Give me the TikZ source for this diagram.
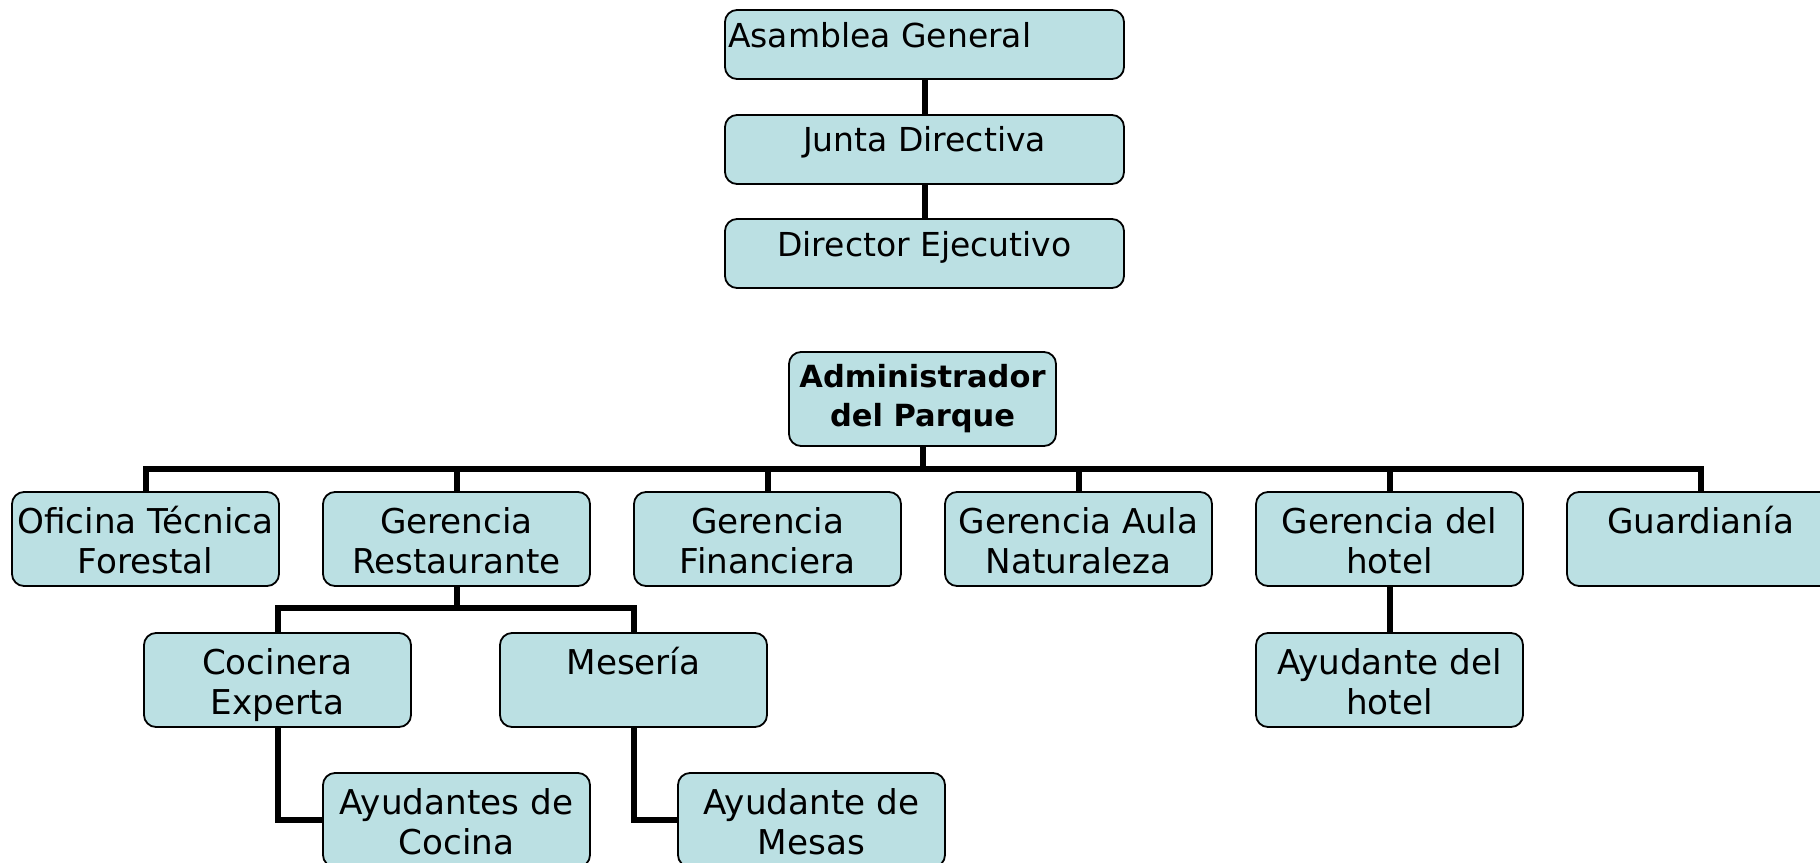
\documentclass[tikz,border=0pt]{standalone}
\usepackage{fontspec}
\setmainfont{DejaVu Sans}
\definecolor{boxfill}{HTML}{BBE0E3}
\tikzset{
  box/.style={draw=black, fill=boxfill, rounded corners=12pt, line width=1.8pt,
    inner sep=0pt, outer sep=0pt, anchor=north west},
  rowbox/.style={box, minimum width=267pt, minimum height=94pt},
  topbox/.style={box, minimum width=399pt, minimum height=69pt},
  conn/.style={line width=6pt, draw=black}
}
% #1 width, #2 height, #3 first baseline, #4 alignment, #5 text
\newcommand\bxt[5]{\parbox[c][#2][t]{#1}{#4\fontsize{34.2}{40}\selectfont\rule{0pt}{#3}#5}}
\newcommand\topt[5]{\parbox[c][#2][t]{#1}{#4\fontsize{33}{40}\selectfont\rule{0pt}{#3}#5}}
\newcommand\rowtxt[1]{\bxt{267pt}{94pt}{41pt}{\centering}{#1}}
\begin{document}
\begin{tikzpicture}[x=1pt,y=-1pt]
\clip (0,0) rectangle (1820,862);
\fill[white] (0,0) rectangle (1820,862);

% top chain
\node[topbox] (asm) at (725,10) {\topt{399pt}{69pt}{37pt}{\raggedright\hspace*{3pt}}{Asamblea General}};
\node[topbox] (jun) at (725,115) {\topt{399pt}{69pt}{36pt}{\centering}{Junta Directiva}};
\node[topbox] (dir) at (725,219) {\topt{399pt}{69pt}{37pt}{\centering}{Director Ejecutivo}};

% administrator
\node[rowbox] (adm) at (789,352) {\parbox[c][94pt][t]{267pt}{\centering\fontsize{30.5}{39}\selectfont\bfseries\rule{0pt}{35pt}Administrador\\del Parque}};

% first row
\node[rowbox] (ofi) at (12,492) {\rowtxt{Oficina Técnica\\Forestal}};
\node[rowbox] (res) at (323,492) {\rowtxt{Gerencia\\Restaurante}};
\node[rowbox] (fin) at (634,492) {\rowtxt{Gerencia\\Financiera}};
\node[rowbox] (aul) at (945,492) {\rowtxt{Gerencia Aula\\Naturaleza}};
\node[rowbox] (hot) at (1256,492) {\rowtxt{Gerencia del\\hotel}};
\node[rowbox] (gua) at (1567,492) {\rowtxt{Guardianía}};

% second row
\node[rowbox] (coc) at (144,633) {\rowtxt{Cocinera\\Experta}};
\node[rowbox] (mes) at (500,633) {\rowtxt{Mesería}};
\node[rowbox] (ayh) at (1256,633) {\rowtxt{Ayudante del\\hotel}};

% third row
\node[rowbox] (ayc) at (323,773) {\rowtxt{Ayudantes de\\Cocina}};
\node[rowbox] (aym) at (678,773) {\rowtxt{Ayudante de\\Mesas}};

% connectors
\coordinate (bus) at (0,469);
\coordinate (sbus) at (0,608);
\draw[conn] (asm.south) -- (jun.north);
\draw[conn] (jun.south) -- (dir.north);
\draw[conn] (adm.south) -- (adm.south |- bus);
\draw[conn] (ofi.north) |- (bus -| gua.north) -- (gua.north);
\foreach \n in {res,fin,aul,hot} \draw[conn] (\n.north) -- (\n.north |- bus);
\draw[conn] (res.south) -- (res.south |- sbus);
\draw[conn] (coc.north) |- (sbus -| mes.north) -- (mes.north);
\draw[conn] (coc.south) |- (ayc.west);
\draw[conn] (mes.south) |- (aym.west);
\draw[conn] (hot.south) -- (ayh.north);
\end{tikzpicture}
\end{document}
